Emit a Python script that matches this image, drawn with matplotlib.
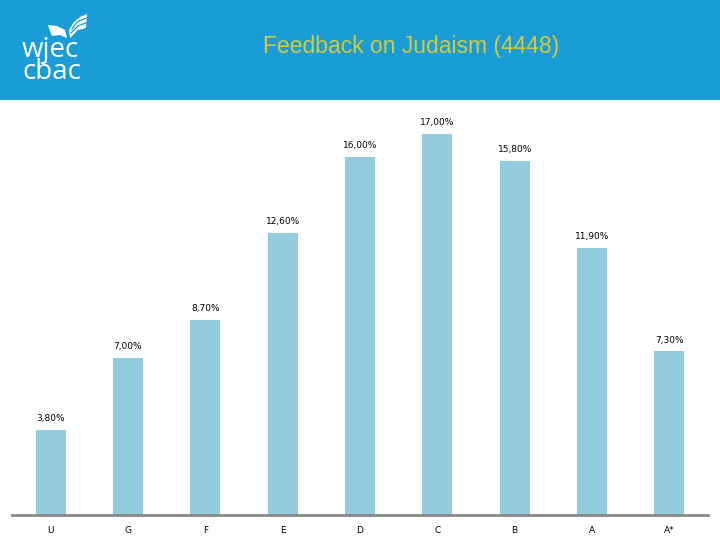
import matplotlib
matplotlib.use("Agg")
from matplotlib import pyplot as plt
from matplotlib.patches import Rectangle, Polygon

grades = ["U", "G", "F", "E", "D", "C", "B", "A", "A*"]
percent = [3.8, 7.0, 8.7, 12.6, 16.0, 17.0, 15.8, 11.9, 7.3]
labels = ["3,80%", "7,00%", "8,70%", "12,60%", "16,00%", "17,00%", "15,80%", "11,90%", "7,30%"]

fig = plt.figure(figsize=(7.2, 5.4), dpi=100)

# header band
fig.patches.append(Rectangle((0, 1 - 100 / 540), 1, 100 / 540, transform=fig.transFigure,
                             facecolor="#1a9dd7", edgecolor="none", zorder=0))
fig.text(411 / 720, 1 - 46 / 540, "Feedback on Judaism (4448)", color="#d3c93a",
         fontsize=16.5, family="Liberation Sans", ha="center", va="center")

# logo
fig.text(22 / 720, 1 - 36 / 540, "wjec\ncbac", color="white", fontsize=20, family="Open Sans",
         ha="left", va="top", linespacing=0.72)
left_page = [(48, 25), (57, 26), (65, 30), (67, 38), (60, 35), (52, 36), (50, 31)]
right_page = [(69, 30), (74, 22), (80, 17), (87, 14), (86, 28), (78, 30), (70, 38)]
for page in (left_page, right_page):
    pts = [(x / 720, 1 - y / 540) for x, y in page]
    fig.patches.append(Polygon(pts, closed=True, transform=fig.transFigure,
                               facecolor="white", edgecolor="none"))
for gap in ([(72, 29), (77, 22), (86, 18)], [(71, 33), (78, 26), (86, 23)]):
    fig.lines.append(plt.Line2D([p[0] / 720 for p in gap], [1 - p[1] / 540 for p in gap],
                                transform=fig.transFigure, color="#1a9dd7", linewidth=0.9))

# chart
ax = fig.add_axes([12 / 720, 25 / 540, 696 / 720, 405 / 540])
x = range(len(grades))
ax.bar(x, percent, width=0.39, color="#93cddd")
for xi, v, lab in zip(x, percent, labels):
    ax.annotate(lab, (xi, v), xytext=(0, 5), textcoords="offset points",
                ha="center", va="bottom", fontsize=6.5, color="black")
ax.set_xlim(-0.5, len(grades) - 0.5)
ax.set_ylim(0, 405 / 22.4)
ax.set_xticks(list(x))
ax.set_xticklabels(grades, fontsize=6.5)
ax.tick_params(axis="x", length=0, pad=8)
ax.set_yticks([])
for s in ["top", "right", "left"]:
    ax.spines[s].set_visible(False)
ax.spines["bottom"].set_color("#888888")
ax.spines["bottom"].set_linewidth(2)
ax.patch.set_alpha(0)

fig.savefig("out.png", dpi=100)
